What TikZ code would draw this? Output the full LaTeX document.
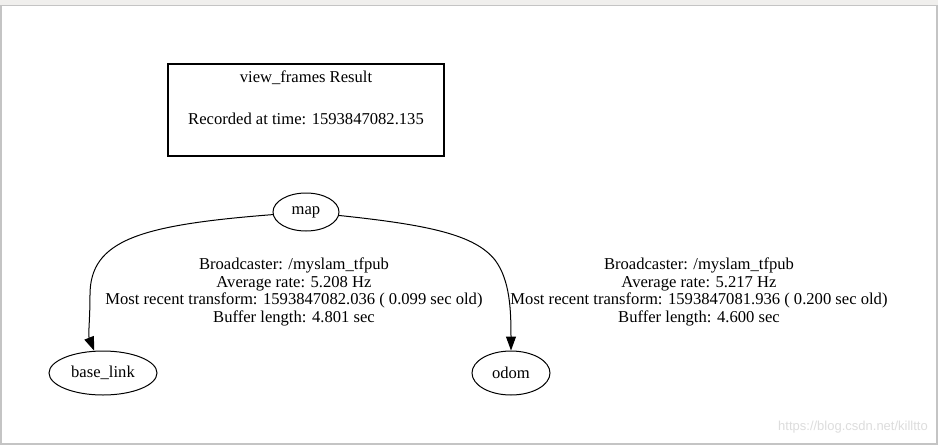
\documentclass[tikz,border=0pt]{standalone}
\usepackage{fontspec}
\setmainfont{Liberation Serif}
\newfontfamily\wmfont{Liberation Sans}
\usetikzlibrary{arrows.meta,shapes.geometric}
\definecolor{bandgray}{HTML}{F0EFED}
\definecolor{framegray}{HTML}{C4C4C4}
\definecolor{wmgray}{HTML}{DDDDDD}
\begin{document}
\begin{tikzpicture}[x=1pt,y=-1pt,
  every node/.style={font=\fontsize{16.6}{17.8}\selectfont},
  ell/.style={draw,ellipse,line width=1pt,inner sep=0pt},
  titlebox/.style={draw,line width=2pt,minimum width=276pt,minimum height=92pt,inner sep=0pt},
  edgelbl/.style={align=center,inner sep=0pt},
  edge/.style={draw,line width=1pt,-{Triangle[length=14pt,width=10pt]}}]
\useasboundingbox (0,0) rectangle (938,445);
% page frame
\fill[framegray] (0,0) rectangle (938,445);
\fill[bandgray] (0,0) rectangle (938,5);
\fill[white] (2,6) rectangle (936,443);
% title box
\node[titlebox] (box) at (306,110) {};
\node[align=center,inner sep=0pt,font=\fontsize{16.6}{21}\selectfont] (boxtxt) at (306,98) {view\_frames Result\\[0pt] \\Recorded at time: 1593847082.135};
% frames
\node[ell,minimum width=66pt,minimum height=38pt] (map) at (306,212) {map};
\node[ell,minimum width=108pt,minimum height=44pt] (bl) at (103,373) {base\_link};
\node[ell,minimum width=78pt,minimum height=44pt] (odom) at (511,373) {odom};
\coordinate (m1) at (90,295);
\coordinate (m2) at (495,260);
% edges
\draw[line width=1pt] (map) .. controls (140,225) and (90,240) .. (m1);
\draw[edge] (m1) .. controls (90,320) and (88,335) .. (bl);
\draw[line width=1pt] (map) .. controls (430,225) and (475,235) .. (m2);
\draw[edge] (m2) .. controls (510,280) and (511,310) .. (odom);
% edge labels
\node[edgelbl] (lbl1) at (294,292) {Broadcaster: /myslam\_tfpub\\Average rate: 5.208 Hz\\Most recent transform: 1593847082.036 ( 0.099 sec old)\\Buffer length: 4.801 sec};
\node[edgelbl] (lbl2) at (699,292) {Broadcaster: /myslam\_tfpub\\Average rate: 5.217 Hz\\Most recent transform: 1593847081.936 ( 0.200 sec old)\\Buffer length: 4.600 sec};
% watermark
\node[font=\wmfont\fontsize{13}{15}\selectfont,text=wmgray,anchor=east,inner sep=0pt] (wm) at (928,427) {https://blog.csdn.net/killtto};
\end{tikzpicture}
\end{document}
